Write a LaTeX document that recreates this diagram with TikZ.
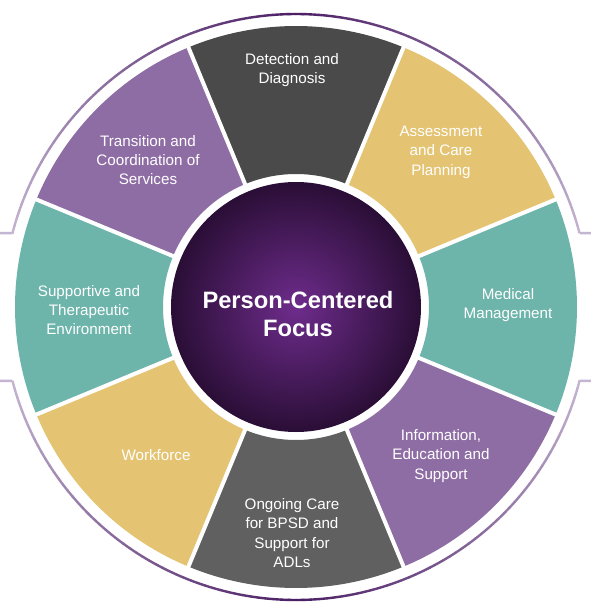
\documentclass[tikz,border=0pt]{standalone}
\usepackage{fontspec}
\setmainfont{Liberation Sans}
\definecolor{segdark}{HTML}{4A4A4A}
\definecolor{seggray}{HTML}{606060}
\definecolor{seggold}{HTML}{E4C472}
\definecolor{segteal}{HTML}{6DB4AB}
\definecolor{segpurple}{HTML}{8E6CA4}
\definecolor{ringdark}{HTML}{4A1D63}
\definecolor{ringlight}{HTML}{C4B5D2}
\definecolor{coreinner}{HTML}{6E2C8C}
\definecolor{coreouter}{HTML}{2A0E36}
\tikzset{
  seglabel/.style={text=white, align=center, font=\fontsize{15.2}{19.4}\selectfont, inner sep=0pt},
  corelabel/.style={text=white, align=center, font=\bfseries\fontsize{23.7}{28}\selectfont, inner sep=0pt},
  sepline/.style={white, line width=4pt},
  ringline/.style={line width=2.4pt}
}
\newcommand{\mysector}[2]{%
  \fill[#2] ({#1-22.5}:133) arc[start angle={#1-22.5}, end angle={#1+22.5}, radius=133]
    -- ({#1+22.5}:281) arc[start angle={#1+22.5}, end angle={#1-22.5}, radius=281] -- cycle;}
\begin{document}
\begin{tikzpicture}[x=1pt,y=1pt]
\useasboundingbox (-296,-307) rectangle (295,307);
\fill[white] (-296,-307) rectangle (295,307);
% sectors
\mysector{90}{segdark}
\mysector{45}{seggold}
\mysector{0}{segteal}
\mysector{-45}{segpurple}
\mysector{-90}{seggray}
\mysector{-135}{seggold}
\mysector{180}{segteal}
\mysector{135}{segpurple}
\foreach \b in {22.5,67.5,...,337.5} {\draw[sepline] (\b:128) -- (\b:286);}
% core
\shade[inner color=coreinner, outer color=coreouter] (0,0) circle[radius=125];
% outer ring arcs
\foreach \i in {0,...,99} {
  \pgfmathsetmacro\a{14.6+\i*1.508}
  \pgfmathsetmacro\t{min(100,abs(\a+0.75-90)/75.4*100)}
  \draw[ringline, color=ringlight!\t!ringdark] (\a:293) arc[start angle=\a, end angle={\a+1.6}, radius=293];
  \pgfmathsetmacro\c{194.6+\i*1.508}
  \pgfmathsetmacro\s{min(100,abs(\c+0.75-270)/75.4*100)}
  \draw[ringline, color=ringlight!\s!ringdark] (\c:293) arc[start angle=\c, end angle={\c+1.6}, radius=293];
}
\coordinate (tl) at (165.4:293);
\coordinate (tr) at (14.6:293);
\coordinate (bl) at (194.6:293);
\coordinate (br) at (345.4:293);
\coordinate (tlx) at (-296,73.8);
\coordinate (trx) at (295,73.8);
\coordinate (blx) at (-296,-73.8);
\coordinate (brx) at (295,-73.8);
\draw[ringline, ringlight] (tl) -- (tlx);
\draw[ringline, ringlight] (tr) -- (trx);
\draw[ringline, ringlight] (bl) -- (blx);
\draw[ringline, ringlight] (br) -- (brx);
% labels
\node[seglabel] (detect) at (-4,237) {Detection and\\Diagnosis};
\node[seglabel] (assess) at (145,155) {Assessment\\and Care\\Planning};
\node[seglabel] (medical) at (212,2) {Medical\\Management};
\node[seglabel] (info) at (145,-149) {Information,\\Education and\\Support};
\node[seglabel] (ongoing) at (-4,-226) {Ongoing Care\\for BPSD and\\Support for\\ADLs};
\node[seglabel] (work) at (-140,-148) {Workforce};
\node[seglabel] (support) at (-207,-3) {Supportive and\\Therapeutic\\Environment};
\node[seglabel] (trans) at (-148,147) {Transition and\\Coordination of\\Services};
\node[corelabel] (core) at (2,-7) {Person-Centered\\Focus};
\end{tikzpicture}
\end{document}
